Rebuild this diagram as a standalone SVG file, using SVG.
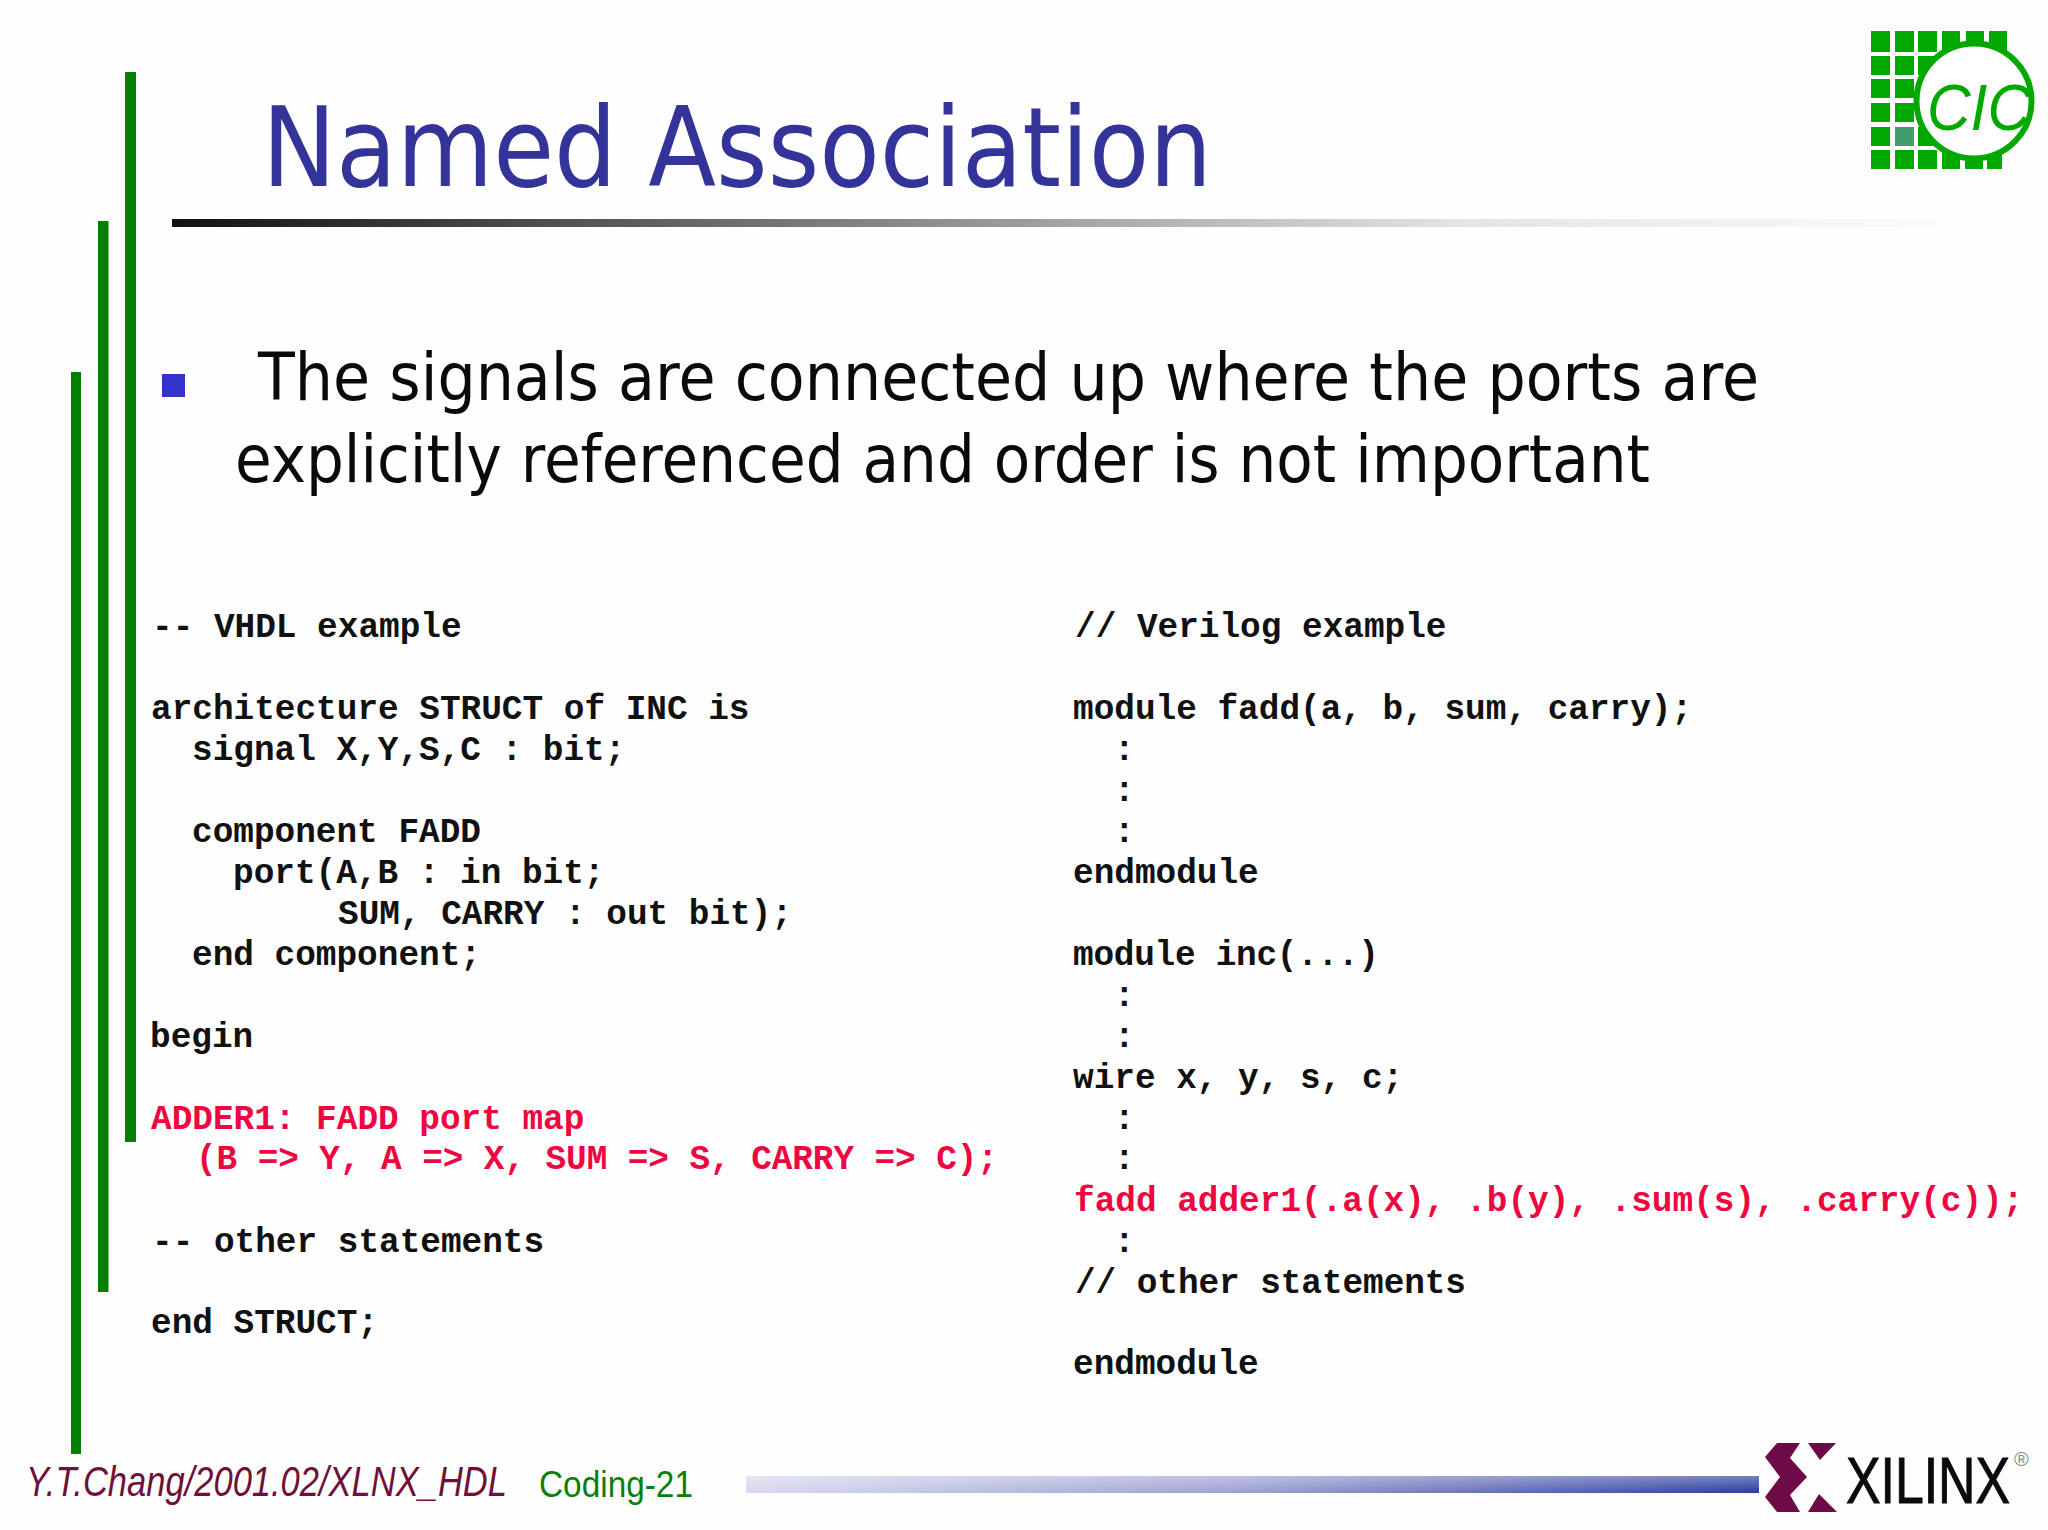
<svg xmlns="http://www.w3.org/2000/svg" width="2048" height="1530" viewBox="0 0 2048 1530">
<defs>
<linearGradient id="rule"><stop offset="0" stop-color="#111"/><stop offset="0.4" stop-color="#8a8a8a"/><stop offset="0.7" stop-color="#e4e4e4"/><stop offset="1" stop-color="#fff"/></linearGradient>
<linearGradient id="foot"><stop offset="0" stop-color="#d8d8ee"/><stop offset="0.5" stop-color="#9a9ed0"/><stop offset="1" stop-color="#2b3c9c"/></linearGradient>
<linearGradient id="sheen" x1="0" y1="0" x2="0" y2="1"><stop offset="0" stop-color="#fff" stop-opacity="0.35"/><stop offset="1" stop-color="#fff" stop-opacity="0"/></linearGradient>
</defs>
<style>
text{white-space:pre}
.c{font-family:"Liberation Mono",monospace;font-weight:700;font-size:34.4px;fill:#111}
.r{fill:#ee0640}
.b{font-family:"DejaVu Sans",sans-serif;font-size:66px;fill:#0a0a0a}
.g{fill:#00a800}
.bar{fill:#007f00}
</style>
<rect width="2048" height="1530" fill="#fefefe"/>
<g id="bars">
<rect class="bar" x="125" y="72" width="11" height="1070"/>
<rect class="bar" x="98" y="221" width="10.500" height="1071"/>
<rect class="bar" x="71" y="372" width="10" height="1082"/>
</g>
<g id="title">
<text x="262" y="186" font-family="DejaVu Sans, sans-serif" font-size="110" fill="#333399" textLength="950" lengthAdjust="spacingAndGlyphs">Named Association</text>
<rect x="172" y="219" width="1840" height="8" fill="url(#rule)"/>
</g>
<g id="cic">
<g class="g">
<rect x="1871" y="31" width="19" height="21"/><rect x="1895" y="31" width="19" height="21"/><rect x="1918" y="31" width="19" height="21"/><rect x="1942" y="31" width="18" height="21"/><rect x="1966" y="31" width="18" height="21"/><rect x="1989" y="31" width="18" height="21"/>
<rect x="1871" y="56" width="19" height="19"/><rect x="1895" y="56" width="19" height="19"/><rect x="1918" y="56" width="19" height="19"/>
<rect x="1871" y="79" width="19" height="19"/><rect x="1895" y="79" width="19" height="19"/><rect x="1918" y="79" width="19" height="19"/>
<rect x="1871" y="103" width="19" height="19"/><rect x="1895" y="103" width="19" height="19"/><rect x="1918" y="103" width="19" height="19"/>
<rect x="1871" y="127" width="19" height="19"/><rect x="1918" y="127" width="19" height="19"/>
<rect x="1871" y="150" width="19" height="19"/><rect x="1895" y="150" width="19" height="19"/><rect x="1918" y="150" width="19" height="19"/><rect x="1942" y="150" width="18" height="19"/><rect x="1965" y="150" width="18" height="19"/><rect x="1987" y="150" width="15" height="19"/>
</g>
<rect x="1895" y="127" width="19" height="19" fill="#3f9e6b"/>
<circle cx="1974" cy="101" r="57.500" fill="#fff" stroke="#00a800" stroke-width="6"/>
<text x="1927" y="130" font-family="Liberation Sans, sans-serif" font-style="italic" font-size="64" fill="#00a800" textLength="104" lengthAdjust="spacingAndGlyphs">CIC</text>
</g>
<g id="bullet">
<rect x="162" y="374" width="23" height="23" fill="#3333cc"/>
<text class="b" x="258" y="400" textLength="1501" lengthAdjust="spacingAndGlyphs">The signals are connected up where the ports are</text>
<text class="b" x="235" y="482" textLength="1415" lengthAdjust="spacingAndGlyphs">explicitly referenced and order is not important</text>
</g>
<g id="vhdl">
<text class="c" x="152" y="637">-- VHDL example</text>
<text class="c" x="151" y="719">architecture STRUCT of INC is</text>
<text class="c" x="192" y="760">signal X,Y,S,C : bit;</text>
<text class="c" x="192" y="842">component FADD</text>
<text class="c" x="233" y="883">port(A,B : in bit;</text>
<text class="c" x="338" y="924">SUM, CARRY : out bit);</text>
<text class="c" x="192" y="965">end component;</text>
<text class="c" x="150" y="1047">begin</text>
<text class="c r" x="151" y="1129">ADDER1: FADD port map</text>
<text class="c r" x="196" y="1169" textLength="802">(B => Y, A => X, SUM => S, CARRY => C);</text>
<text class="c" x="152" y="1252">-- other statements</text>
<text class="c" x="151" y="1333">end STRUCT;</text>
</g>
<g id="verilog">
<text class="c" x="1075" y="637">// Verilog example</text>
<text class="c" x="1073" y="719">module fadd(a, b, sum, carry);</text>
<text class="c" x="1114" y="760">:</text>
<text class="c" x="1114" y="801">:</text>
<text class="c" x="1114" y="842">:</text>
<text class="c" x="1073" y="883">endmodule</text>
<text class="c" x="1073" y="965" textLength="306">module inc(...)</text>
<text class="c" x="1114" y="1006">:</text>
<text class="c" x="1114" y="1047">:</text>
<text class="c" x="1073" y="1088">wire x, y, s, c;</text>
<text class="c" x="1114" y="1129">:</text>
<text class="c" x="1114" y="1169">:</text>
<text class="c r" x="1074" y="1211">fadd adder1(.a(x), .b(y), .sum(s), .carry(c));</text>
<text class="c" x="1114" y="1252">:</text>
<text class="c" x="1075" y="1293" textLength="391">// other statements</text>
<text class="c" x="1073" y="1374">endmodule</text>
</g>
<g id="footer">
<text x="26" y="1496" font-family="Liberation Sans Narrow, Liberation Sans, sans-serif" font-style="italic" font-size="42" fill="#6e1038" textLength="481" lengthAdjust="spacingAndGlyphs">Y.T.Chang/2001.02/XLNX_HDL</text>
<text x="539" y="1497" font-family="Liberation Sans, sans-serif" font-size="36" fill="#0a7f0a" textLength="154" lengthAdjust="spacingAndGlyphs">Coding-21</text>
<rect x="746" y="1476" width="1013" height="17" fill="url(#foot)"/>
<rect x="746" y="1476" width="1013" height="17" fill="url(#sheen)"/>
</g>
<g id="xilinx">
<polygon fill="#6e0a45" points="1777,1443 1800,1443 1790,1458 1807,1477 1790,1495 1800,1512 1777,1512 1765,1497 1780,1477 1765,1457"/>
<polygon fill="#6e0a45" points="1808,1443 1836,1443 1820,1460"/>
<polygon fill="#6e0a45" points="1819,1494 1837,1512 1808,1512"/>
<text x="1846" y="1503" font-family="Liberation Sans, sans-serif" font-size="65" stroke="#0a0a0a" stroke-width="1" fill="#0a0a0a" textLength="164" lengthAdjust="spacingAndGlyphs">XILINX</text>
<text x="2014" y="1466" font-family="Liberation Sans, sans-serif" font-size="20" fill="#888">®</text>
</g>
</svg>
